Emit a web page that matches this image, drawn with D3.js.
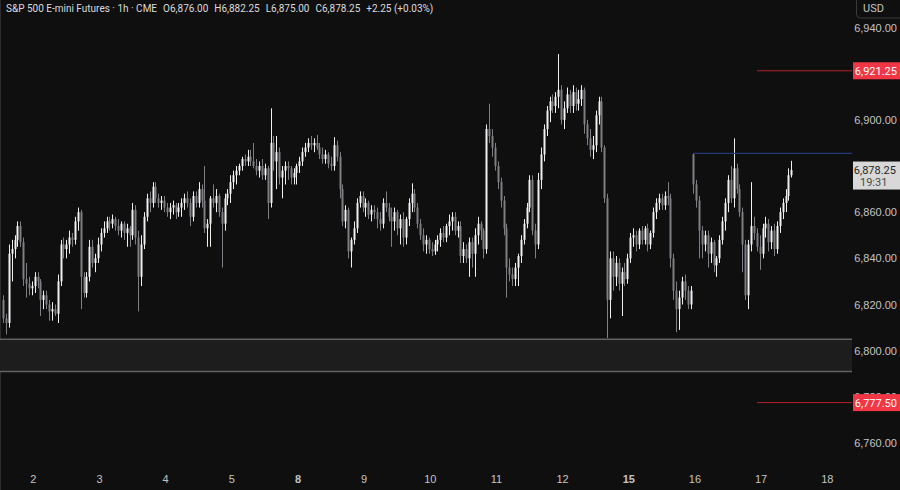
<!DOCTYPE html>
<html>
<head>
<meta charset="utf-8">
<script src="https://d3js.org/d3.v7.min.js"></script>
<style>
    body { margin: 0; background: #0f0f0f; }
    svg { display: block; font-family: Roboto, "Noto Sans", sans-serif; }
</style>
</head>
<body>
<svg id="drawing_region"></svg>
<script>
// hourly bars
const opens = [
    6822,6814,6812,6842,6844,6848,6854,6847,6831,6829,
    6827,6828,6832,6830,6822,6824,6820,6817,6818,6816,
    6830,6846,6844,6846,6849,6848,6856,6860,6832,6825,
    6832,6845,6838,6840,6846,6851,6853,6856,6855,6857,
    6854,6852,6855,6851,6853,6850,6861,6849,6832,6846,
    6858,6866,6864,6871,6866,6864,6865,6862,6860,6862,
    6863,6860,6862,6864,6866,6864,6858,6867,6864,6870,
    6865,6853,6855,6866,6864,6867,6860,6855,6866,6868,
    6873,6876,6878,6880,6883,6882,6884,6882,6880,6878,
    6880,6876,6879,6864,6890,6882,6886,6875,6878,6880,
    6879,6875,6877,6880,6882,6886,6888,6890,6889,6890,
    6888,6885,6883,6885,6881,6880,6889,6884,6870,6856,
    6861,6843,6848,6853,6864,6867,6862,6864,6859,6861,
    6860,6857,6855,6864,6862,6858,6856,6860,6853,6857,
    6849,6857,6864,6868,6862,6855,6850,6846,6848,6844,
    6843,6846,6848,6851,6849,6854,6856,6858,6852,6854,
    6841,6844,6840,6847,6842,6850,6855,6852,6844,6896,
    6893,6888,6880,6873,6865,6853,6836,6833,6831,6836,
    6841,6848,6855,6862,6874,6852,6846,6874,6885,6896,
    6904,6908,6906,6910,6913,6900,6905,6911,6906,6912,
    6907,6909,6913,6898,6892,6887,6889,6902,6908,6888,
    6866,6822,6840,6832,6838,6829,6834,6831,6840,6849,
    6850,6846,6852,6848,6853,6846,6851,6860,6864,6866,
    6863,6867,6866,6840,6826,6818,6823,6830,6826,6820,
    6885,6872,6865,6852,6846,6850,6842,6847,6837,6840,
    6848,6856,6864,6874,6866,6879,6870,6860,6846,6824,
    6846,6854,6851,6845,6842,6853,6855,6847,6852,6844,
    6854,6860,6864,6867,6876
];
const highs = [
    6824,6816,6846,6848,6850,6856,6856,6849,6838,6832,
    6830,6834,6834,6831,6826,6826,6822,6821,6820,6833,
    6848,6849,6848,6852,6851,6858,6862,6861,6834,6834,
    6848,6848,6842,6849,6853,6856,6858,6858,6859,6858,
    6857,6856,6856,6855,6854,6864,6863,6852,6850,6860,
    6868,6869,6873,6873,6868,6867,6867,6864,6864,6865,
    6864,6864,6866,6868,6869,6866,6869,6869,6873,6872,
    6880,6857,6867,6872,6870,6868,6862,6868,6870,6876,
    6878,6880,6881,6884,6885,6887,6887,6890,6883,6882,
    6883,6881,6880,6905,6893,6893,6888,6880,6882,6882,
    6880,6879,6881,6884,6888,6890,6892,6893,6892,6893.5,
    6890,6888,6887,6886,6884,6892.5,6891,6886,6872,6863,
    6862,6849,6856,6866,6869,6869,6866,6865,6863,6863,
    6862,6860,6866,6869,6864,6862,6862,6861,6859,6860,
    6858,6866,6872.5,6870,6864,6857,6853,6850,6849,6847,
    6848,6850,6853,6854,6855,6859,6860,6860,6856,6856,
    6847,6846,6849,6849,6853,6858,6856,6853,6898,6907,
    6896,6890,6882,6875,6867,6855,6840,6836,6838,6842,
    6850,6857,6864,6876,6876,6855,6877,6888,6898,6906,
    6910,6911,6912,6928.5,6915,6908,6914,6913,6915,6914,
    6913,6915,6914,6900,6896,6893,6904,6910,6910,6889,
    6868,6843,6843,6841,6840,6836,6838,6842,6851,6853,
    6852,6853,6854,6854,6855,6852,6862,6866,6868,6868,
    6869,6873,6868,6842,6830,6826,6832,6833,6828,6828,
    6885.5,6874,6867,6854,6852,6852,6849,6848,6841,6850,
    6858,6866,6876,6880,6892,6881,6872,6862,6848,6848,
    6873,6858,6853,6850,6855,6858,6857,6854,6855,6856,
    6862,6866,6870,6879,6882.25
];
const lows = [
    6812,6807,6810,6830,6840,6845,6845,6828,6823,6824,
    6824,6825,6827,6815,6818,6818,6813,6813,6815,6812,
    6828,6840,6840,6842,6845,6846,6852,6818,6823,6823,
    6830,6836,6834,6838,6843,6849,6851,6852,6853,6852,
    6850,6849,6848,6845,6845,6848,6846,6817,6828,6844,
    6856,6860,6862,6864,6862,6861,6860,6858,6857,6859,
    6857,6858,6858,6861,6862,6854,6856,6862,6862,6862,
    6851,6845,6845,6862,6860,6858,6836,6852,6863,6864,
    6870,6872,6876,6878,6880,6880,6880,6879,6876,6875,
    6874,6874,6857,6862,6878,6870,6872,6866,6872,6874,
    6872,6872,6872,6877,6880,6884,6886,6887,6886,6887,
    6883,6881,6881,6879,6878,6878,6882,6866,6854,6853,
    6840,6836,6846,6851,6862,6860,6858,6857,6856,6857,
    6853,6852,6853,6860,6856,6845,6852,6850,6846,6845,
    6846,6854,6860,6860,6853,6848,6843,6842,6842,6841,
    6841.5,6843,6845,6847,6847,6850,6852,6850,6849,6838,
    6838,6838,6832,6836,6832,6846,6848,6840,6842,6890,
    6884,6878,6870,6862,6850,6823,6830,6828,6828,6828,
    6838,6846,6853,6860,6850,6840,6844,6870,6882,6893,
    6899,6903,6903,6905,6898,6896,6903,6903,6903,6904,
    6904,6906,6894,6889,6884,6883,6886,6898,6886,6864,
    6805.5,6814,6826,6828,6826,6815,6828,6829,6838,6845,
    6843,6844,6846,6846,6843,6844,6849,6857,6861,6861,
    6861,6863,6836,6822,6808,6809,6820,6822,6818,6818,
    6868,6862,6840,6840,6843,6836,6838,6834,6832,6838,
    6846,6852,6860,6864,6862,6868,6858,6834,6822,6818,
    6843,6848,6843,6835,6840,6849,6843,6844,6841,6842,
    6851,6857,6860,6865,6875
];
const closes = [
    6814,6812,6842,6844,6848,6854,6847,6831,6829,6827,
    6828,6832,6830,6822,6824,6820,6817,6818,6816,6830,
    6846,6844,6846,6849,6848,6856,6860,6832,6825,6832,
    6845,6838,6840,6846,6851,6853,6856,6855,6857,6854,
    6852,6855,6851,6853,6850,6861,6849,6832,6846,6858,
    6866,6864,6871,6866,6864,6865,6862,6860,6862,6863,
    6860,6862,6864,6866,6864,6858,6867,6864,6870,6865,
    6853,6855,6866,6864,6867,6860,6855,6866,6868,6873,
    6876,6878,6880,6883,6882,6884,6882,6880,6878,6880,
    6876,6879,6864,6890,6882,6886,6875,6878,6880,6879,
    6875,6877,6880,6882,6886,6888,6890,6889,6890,6888,
    6885,6883,6885,6881,6880,6889,6884,6870,6856,6861,
    6843,6848,6853,6864,6867,6862,6864,6859,6861,6860,
    6857,6855,6864,6862,6858,6856,6860,6853,6857,6849,
    6857,6864,6868,6862,6855,6850,6846,6848,6844,6843,
    6846,6848,6851,6849,6854,6856,6858,6852,6854,6841,
    6844,6840,6847,6842,6850,6855,6852,6844,6896,6893,
    6888,6880,6873,6865,6853,6836,6833,6831,6836,6841,
    6848,6855,6862,6874,6852,6846,6874,6885,6896,6904,
    6908,6906,6910,6913,6900,6905,6911,6906,6912,6907,
    6909,6913,6898,6892,6887,6889,6902,6908,6888,6866,
    6822,6840,6832,6838,6829,6834,6831,6840,6849,6850,
    6846,6852,6848,6853,6846,6851,6860,6864,6866,6863,
    6867,6866,6840,6826,6818,6823,6830,6826,6820,6826,
    6872,6865,6852,6846,6850,6842,6847,6837,6840,6848,
    6856,6864,6874,6866,6879,6870,6860,6846,6824,6846,
    6854,6851,6845,6842,6853,6855,6847,6852,6844,6854,
    6860,6864,6867,6876,6878.25
];

// time axis: bar index where each day starts
const day_labels = ['2','3','4','5','8','9','10','11','12','15','16','17','18'];
const day_start_bars = [10,33,56,79,102,125,148,171,194,217,240,263,286];
const bold_days = ['8','15'];

// 6,920 sits fully under the red tag in the picture, so it is left out
const price_ticks = [6760,6780,6800,6820,6840,6860,6880,6900,6940];
const zone_prices = [6791, 6805];
const red_levels = [6921.25, 6777.5];
const blue_level = 6885.5;
const blue_start_bar = 240;
const countdown = '19:31';
const symbol_name = 'S&P 500 E-mini Futures · 1h · CME';

class CandleChart {

    constructor( config ) {
        this.config = config;
        this.data = opens.map( (o,i) => ({ i:i, o:o, h:highs[i], l:lows[i], c:closes[i] }) );
        this.init();
    }

    init() {
        let self = this;
        const cfg = self.config;

        self.svg = d3.select( cfg.parent )
            .attr('width', cfg.width)
            .attr('height', cfg.height);

        self.svg.append('rect')
            .attr('width', cfg.width)
            .attr('height', cfg.height)
            .attr('fill', '#0f0f0f');

        self.xscale = d3.scaleLinear()
            .domain( [0, 286] )
            .range( [4, 826.8] );

        self.yscale = d3.scaleLinear()
            .domain( [6760, 6940] )
            .range( [443, 27.5] );
    }

    render() {
        let self = this;
        const cfg = self.config;
        const x = self.xscale, y = self.yscale;
        const fmt = d3.format(',.2f');

        self.svg.append('line')
            .attr('x1', 0.5).attr('x2', 0.5)
            .attr('y1', 0).attr('y2', cfg.height)
            .attr('stroke', '#2c2c2c');

        // grey zone
        const ztop = y( zone_prices[1] ), zbot = y( zone_prices[0] );
        self.svg.append('rect')
            .attr('x', 0).attr('y', ztop)
            .attr('width', cfg.plot_right).attr('height', zbot - ztop)
            .attr('fill', '#1d1d1d');
        self.svg.selectAll('.zone-line')
            .data( zone_prices )
            .join('line')
            .attr('x1', 0).attr('x2', cfg.plot_right)
            .attr('y1', d => y(d)).attr('y2', d => y(d))
            .attr('stroke', '#626262')
            .attr('stroke-width', 1.5);

        // candles
        const bars = self.svg.append('g');
        bars.selectAll('.wick')
            .data( self.data )
            .join('rect')
            .attr('x', d => Math.round( x(d.i) ) - 1)
            .attr('y', d => y(d.h))
            .attr('width', 1)
            .attr('height', d => Math.max( 1, y(d.l) - y(d.h) ))
            .attr('fill', d => d.c >= d.o ? cfg.up_color : cfg.down_color);
        bars.selectAll('.body')
            .data( self.data )
            .join('rect')
            .attr('x', d => Math.round( x(d.i) ) - 1.5)
            .attr('y', d => y( Math.max(d.o, d.c) ))
            .attr('width', 2)
            .attr('height', d => Math.max( 1, Math.abs( y(d.o) - y(d.c) ) ))
            .attr('fill', d => d.c >= d.o ? cfg.up_color : cfg.down_color);

        // level lines
        self.svg.append('line')
            .attr('x1', x(blue_start_bar) - 1).attr('x2', cfg.plot_right)
            .attr('y1', y(blue_level)).attr('y2', y(blue_level))
            .attr('stroke', '#243a78')
            .attr('stroke-width', 1.3);
        self.svg.selectAll('.red-line')
            .data( red_levels )
            .join('line')
            .attr('x1', 757).attr('x2', cfg.plot_right)
            .attr('y1', d => y(d)).attr('y2', d => y(d))
            .attr('stroke', '#b3232c');

        // price axis
        const yaxis = d3.axisRight( y )
            .tickValues( price_ticks )
            .tickFormat( fmt )
            .tickSize(0)
            .tickPadding(45);
        const yg = self.svg.append('g')
            .attr('transform', `translate(${cfg.plot_right}, 0)`)
            .call( yaxis );
        yg.select('.domain').remove();
        yg.selectAll('text')
            .attr('text-anchor', 'end')
            .attr('fill', '#c4c4c4')
            .style('font-size', '11px');

        // time axis
        const xaxis = d3.axisBottom( x )
            .tickValues( day_start_bars )
            .tickFormat( (d,i) => day_labels[i] )
            .tickSize(0)
            .tickPadding(0);
        const xg = self.svg.append('g')
            .attr('transform', 'translate(0, 475)')
            .call( xaxis );
        xg.select('.domain').remove();
        xg.selectAll('text')
            .attr('fill', '#c4c4c4')
            .style('font-size', '11px')
            .style('font-weight', (d,i) => bold_days.includes( day_labels[i] ) ? 700 : 400);

        // red price tags
        const tags = self.svg.selectAll('.tag')
            .data( red_levels )
            .join('g')
            .attr('transform', d => `translate(${cfg.plot_right + 1}, ${y(d)})`);
        tags.append('rect')
            .attr('x', 0).attr('y', -8.5)
            .attr('width', 48).attr('height', 17)
            .attr('fill', '#f23645');
        tags.append('text')
            .attr('x', 44).attr('y', 4)
            .attr('text-anchor', 'end')
            .attr('fill', '#ffffff')
            .style('font-size', '11px')
            .text( d => fmt(d) );

        // last price tag
        const last = self.data[ self.data.length - 1 ];
        const ly = y( last.c );
        self.svg.append('rect')
            .attr('x', cfg.plot_right + 1).attr('y', ly - 8.5)
            .attr('width', 48).attr('height', 28)
            .attr('fill', '#d8d8d8');
        self.svg.append('text')
            .attr('x', 896).attr('y', ly + 4)
            .attr('text-anchor', 'end')
            .attr('fill', '#262626')
            .style('font-size', '11px')
            .text( fmt(last.c) );
        self.svg.append('text')
            .attr('x', 860).attr('y', ly + 16)
            .attr('fill', '#4a4a4a')
            .style('font-size', '11px')
            .text( countdown );

        // currency box
        self.svg.append('rect')
            .attr('x', 856.5).attr('y', -5)
            .attr('width', 50).attr('height', 23)
            .attr('rx', 4)
            .attr('fill', 'none')
            .attr('stroke', '#3a3a3a');
        self.svg.append('text')
            .attr('x', 863).attr('y', 12)
            .attr('fill', '#c4c4c4')
            .style('font-size', '11px')
            .text('USD');

        // legend line
        const prev = self.data[ self.data.length - 2 ];
        const chg = last.c - prev.c;
        const pct = chg / prev.c * 100;
        const title = self.svg.append('text')
            .attr('x', 6).attr('y', 11.5)
            .attr('fill', '#dcdcdc')
            .style('font-size', '10px');
        title.append('tspan').text( symbol_name );
        [ 'O' + fmt(last.o), 'H' + fmt(last.h), 'L' + fmt(last.l), 'C' + fmt(last.c),
          (chg >= 0 ? '+' : '') + d3.format('.2f')(chg) + ' (' + (pct >= 0 ? '+' : '') + d3.format('.2f')(pct) + '%)' ]
            .forEach( t => title.append('tspan').attr('dx', 6).text(t) );
    }
}

const chart = new CandleChart({
    parent: '#drawing_region',
    width: 900,
    height: 490,
    plot_right: 852,
    up_color: '#f0f0f0',
    down_color: '#7e7f84'
});
chart.render();
</script>
</body>
</html>
